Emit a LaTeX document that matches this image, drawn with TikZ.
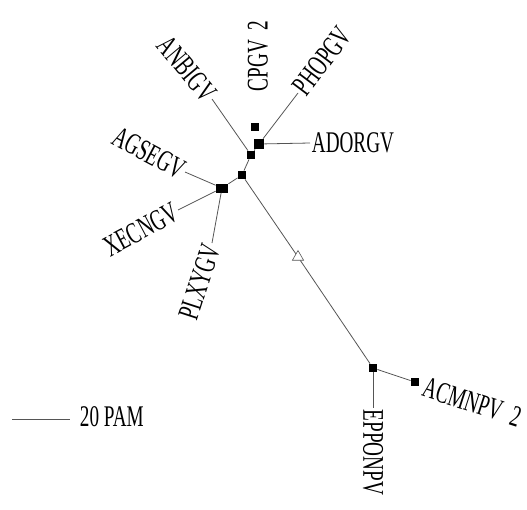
\documentclass[tikz,border=0pt]{standalone}
\usepackage{fontspec}
\newfontfamily\treefont[FakeStretch=0.64]{Liberation Serif}
\definecolor{branch}{HTML}{555555}
\usepackage{tikz}
\usetikzlibrary{shapes.geometric}
\tikzset{
  tip/.style={fill=black, inner sep=0pt, minimum size=8pt},
  taxon/.style={inner sep=1.5pt, font=\treefont\fontsize{30}{30}\selectfont}
}
\begin{document}
\begin{tikzpicture}[x=1pt, y=-1pt, line width=0.8pt]
  \useasboundingbox (0,0) rectangle (527,509);

  \node[tip] (top) at (255,127) {};
  \node[tip, minimum size=10pt] (adorjn) at (259,144) {};
  \node[tip] (upper) at (251,155) {};
  \node[tip] (mid) at (242,175) {};
  \node[tip, minimum width=12pt, minimum height=9pt] (left) at (222,188) {};
  \node[tip] (lower) at (373,368) {};
  \node[tip] (acmn) at (415,382) {};
  \node[draw=branch, fill=white, regular polygon, regular polygon sides=3,
        inner sep=0pt, minimum size=13pt, line width=0.6pt] (root) at (298,257) {};

  \coordinate (anbi) at (212,99);
  \coordinate (cpgv) at (258,93);
  \coordinate (phop) at (298,93);
  \coordinate (ador) at (310,143);
  \coordinate (agse) at (185,172);
  \coordinate (xecn) at (178,210);
  \coordinate (plxy) at (212,243);
  \coordinate (eppo) at (373,408);

  \draw[branch] (upper) -- (anbi);
  \draw[branch] (adorjn) -- (phop);
  \draw[branch] (adorjn) -- (ador);
  \draw[branch] (upper) -- (adorjn);
  \draw[branch] (upper) -- (mid);
  \draw[branch] (mid) -- (left);
  \draw[branch] (left) -- (agse);
  \draw[branch] (left) -- (xecn);
  \draw[branch] (left) -- (plxy);
  \draw[branch] (mid) -- (root) -- (lower);
  \draw[branch] (lower) -- (acmn);
  \draw[branch] (lower) -- (eppo);

  \node[taxon, anchor=east, rotate=-50] at (anbi) {ANBIGV};
  \node[taxon, anchor=west, rotate=90] at (cpgv) {CPGV~~2};
  \node[taxon, anchor=west, rotate=53] at (phop) {PHOPGV};
  \node[taxon, anchor=west] at (ador) {ADORGV};
  \node[taxon, anchor=east, rotate=-28] at (agse) {AGSEGV};
  \node[taxon, anchor=east, rotate=28] at (xecn) {XECNGV};
  \node[taxon, anchor=east, rotate=72] at (plxy) {PLXYGV};
  \node[taxon, anchor=west, rotate=-18] at (422,386) {ACMNPV~~2};
  \node[taxon, anchor=west, rotate=-90] at (eppo) {EPPONPV};

  \coordinate (barl) at (12,419);
  \coordinate (barr) at (70,419);
  \draw[branch] (barl) -- (barr);
  \node[taxon, anchor=west] at (78,417) {20 PAM};
\end{tikzpicture}
\end{document}
